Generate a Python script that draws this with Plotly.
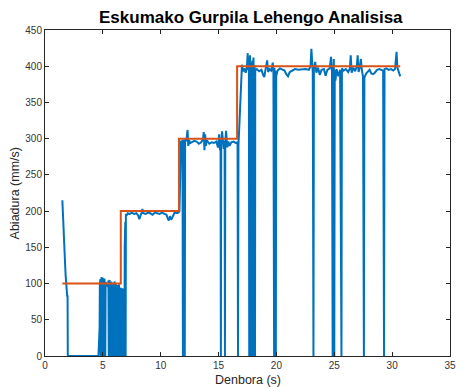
import plotly.graph_objects as go

# ---- reference (set-point) step profile ----
ref_t = [1.5, 6.55, 6.55, 11.58, 11.58, 16.6, 16.6, 30.7]
ref_v = [100, 100, 200, 200, 300, 300, 400, 400]

# ---- measured speed, phase by phase ----
start_t = [1.50, 1.52, 1.55, 1.59, 1.63, 1.66, 1.70, 1.74, 1.78, 1.82, 1.85, 1.88,
           1.90, 1.92, 1.95, 1.97, 4.62, 4.68, 4.72]
start_v = [215, 205, 190, 176, 162, 152, 140, 126, 112, 100, 93, 86,
           89, 82, 84, 0, 0, 22, 40]

p100_t = [4.74, 4.76, 4.79, 4.81, 4.84, 4.86, 4.89, 4.91, 4.94, 4.96, 4.99, 5.01,
          5.04, 5.06, 5.09, 5.11, 5.14, 5.16, 5.19, 5.21, 5.24, 5.30, 5.38, 5.44,
          5.46, 5.48, 5.51, 5.53, 5.56, 5.58, 5.61, 5.63, 5.66, 5.68, 5.71, 5.73,
          5.76, 5.78, 5.84,
          5.90, 5.92, 5.95, 5.97, 6.00, 6.02, 6.05, 6.07, 6.10, 6.12, 6.15, 6.17, 6.22,
          6.28, 6.30, 6.33, 6.35, 6.38, 6.40, 6.43, 6.45, 6.48, 6.50, 6.52, 6.54, 6.60,
          6.67, 6.69, 6.72, 6.74, 6.77, 6.79, 6.82, 6.84, 6.87, 6.89, 6.92, 6.94, 6.97, 6.99]
p100_v = [100, 0, 106, 0, 97, 0, 109, 0, 103, 0, 108, 0,
          96, 0, 104, 0, 107, 0, 99, 0, 102, 98, 97, 96,
          0, 104, 0, 98, 0, 105, 0, 101, 0, 96, 0, 103,
          0, 99, 98,
          0, 101, 0, 97, 0, 103, 0, 99, 0, 100, 0, 97, 96,
          0, 98, 0, 95, 0, 99, 0, 96, 0, 93, 0, 94, 92,
          0, 91, 0, 93, 0, 90, 0, 92, 0, 150, 0, 185, 0, 196]

p200_t = [7.05, 7.15, 7.3, 7.5, 7.7, 7.9, 8.05, 8.15, 8.25, 8.35, 8.42, 8.5, 8.7,
          8.9, 9.1, 9.3, 9.5, 9.7, 9.9, 10.1, 10.3, 10.5, 10.6, 10.7, 10.8, 10.9,
          11.0, 11.1, 11.2, 11.4, 11.55,
          11.62, 11.66, 11.70, 11.75, 11.88, 11.92, 11.96, 12.00, 12.04, 12.08, 12.11]
p200_v = [194, 197, 196, 198, 196, 197, 194, 189, 193, 198, 203, 197, 196,
          198, 197, 195, 198, 197, 196, 198, 196, 195, 190, 187, 193, 188,
          191, 196, 198, 197, 198,
          200, 250, 290, 296, 297, 0, 294, 0, 298, 0, 300]

p300_t = [12.16, 12.24, 12.32, 12.38, 12.45, 12.55, 12.7, 12.9, 13.1, 13.3, 13.5,
          13.65, 13.72, 13.78, 13.84, 13.9, 13.97, 14.05, 14.2, 14.4, 14.6, 14.8,
          14.95, 15.05, 15.12, 15.17, 15.20, 15.23, 15.3, 15.38, 15.45, 15.52,
          15.55, 15.58, 15.65, 15.75, 15.85, 15.95, 16.1, 16.3, 16.5, 16.64,
          16.68, 16.72, 16.8, 16.88, 16.95, 17.02, 17.08]
p300_v = [296, 300, 312, 290, 298, 294, 295, 297, 296, 293, 295,
          299, 309, 284, 306, 290, 298, 296, 293, 295, 294, 296,
          288, 306, 284, 298, 0, 292, 310, 293, 286, 297,
          0, 295, 311, 288, 296, 290, 295, 296, 294, 295,
          0, 292, 320, 355, 385, 402, 396]

p400_t = [17.15, 17.25, 17.35, 17.45, 17.52, 17.57,
          17.60, 17.62, 17.65, 17.67, 17.70, 17.72, 17.75, 17.77, 17.80, 17.82,
          17.85, 17.87, 17.90, 17.92, 17.95, 17.97, 18.00, 18.02, 18.05, 18.07,
          18.10, 18.12, 18.15, 18.17,
          18.3, 18.5, 18.7, 18.85, 18.95, 19.05, 19.2, 19.28, 19.4, 19.55, 19.68,
          19.74, 19.80, 19.83, 19.87, 19.90, 19.95, 19.98, 20.1, 20.3, 20.5, 20.7,
          20.85, 21.0, 21.15, 21.35, 21.6, 21.9, 22.2, 22.5, 22.8, 22.95, 23.02,
          23.08, 23.14, 23.20, 23.24, 23.35, 23.45, 23.6, 23.75, 23.9, 24.1, 24.25,
          24.4, 24.6, 24.72, 24.80, 24.86, 24.89, 24.93, 24.96, 25.00, 25.04, 25.10,
          25.2, 25.35, 25.5, 25.62, 25.66, 25.8, 26.0, 26.2, 26.35, 26.42, 26.5,
          26.65, 26.8, 26.95, 27.02, 27.1, 27.2, 27.3, 27.38, 27.48, 27.56, 27.6,
          27.75, 27.9, 28.05, 28.2, 28.35, 28.5, 28.7, 28.9, 29.1, 29.22, 29.3,
          29.34, 29.5, 29.7, 29.9, 30.1, 30.25, 30.38, 30.45, 30.55, 30.7]
p400_v = [393, 397, 391, 399, 418, 395,
          0, 410, 0, 400, 0, 415, 0, 396, 0, 405,
          0, 392, 0, 408, 0, 398, 0, 412, 0, 395,
          0, 401, 0, 394,
          396, 393, 395, 388, 385, 395, 408, 392, 396, 394, 405,
          392, 0, 398, 0, 394, 0, 386, 394, 397, 395, 394,
          389, 386, 392, 394, 396, 395, 396, 396, 395, 400, 424,
          398, 392, 0, 396, 406, 391, 398, 388, 395, 396, 387,
          395, 397, 413, 392, 0, 402, 0, 410, 0, 395, 380,
          396, 386, 395, 0, 397, 394, 396, 392, 397, 415, 391,
          398, 393, 400, 415, 392, 398, 410, 395, 386, 0, 384,
          390, 393, 395, 390, 389, 391, 395, 396, 395, 394, 0,
          396, 397, 395, 396, 394, 396, 420, 398, 392, 386]

meas_t = start_t + p100_t + p200_t + p300_t + p400_t
meas_v = start_v + p100_v + p200_v + p300_v + p400_v

FONT = "Liberation Sans, Arial, Helvetica, sans-serif"
AX = "#262626"

fig = go.Figure()
fig.add_trace(go.Scatter(x=meas_t, y=meas_v, mode="lines",
                         line=dict(color="#0072BD", width=2), showlegend=False))
fig.add_trace(go.Scatter(x=ref_t, y=ref_v, mode="lines",
                         line=dict(color="#D95319", width=2), showlegend=False))

axis_common = dict(showgrid=False, zeroline=False, showline=True, linecolor=AX,
                   linewidth=1, mirror="ticks", ticks="inside", ticklen=4,
                   tickcolor=AX, tickwidth=1,
                   tickfont=dict(family=FONT, size=10, color="#333333"))

fig.update_layout(
    width=464, height=387,
    margin=dict(l=45, r=8, t=30, b=31),
    paper_bgcolor="white", plot_bgcolor="white",
    xaxis=dict(range=[0, 35], dtick=5, tick0=0, **axis_common),
    yaxis=dict(range=[0, 450], dtick=50, tick0=0, **axis_common),
    annotations=[
        dict(text="<b>Eskumako Gurpila Lehengo Analisisa</b>", xref="paper", yref="paper",
             x=(254 - 45) / 411, y=(356 - 18) / 326, xanchor="center", yanchor="middle",
             showarrow=False, font=dict(family=FONT, size=17, color="black")),
        dict(text="Denbora (s)", xref="paper", yref="paper", x=0.5, y=(356 - 380) / 326,
             xanchor="center", yanchor="middle", showarrow=False,
             font=dict(family=FONT, size=12.5, color=AX)),
        dict(text="Abiadura (mm/s)", xref="paper", yref="paper", x=(15 - 45) / 411, y=0.5,
             xanchor="center", yanchor="middle", textangle=-90, showarrow=False,
             font=dict(family=FONT, size=12.5, color=AX)),
    ],
)

fig.write_html("out.html", config={"displayModeBar": False},
               post_script="document.body.style.margin='0';document.body.style.overflow='hidden';")
